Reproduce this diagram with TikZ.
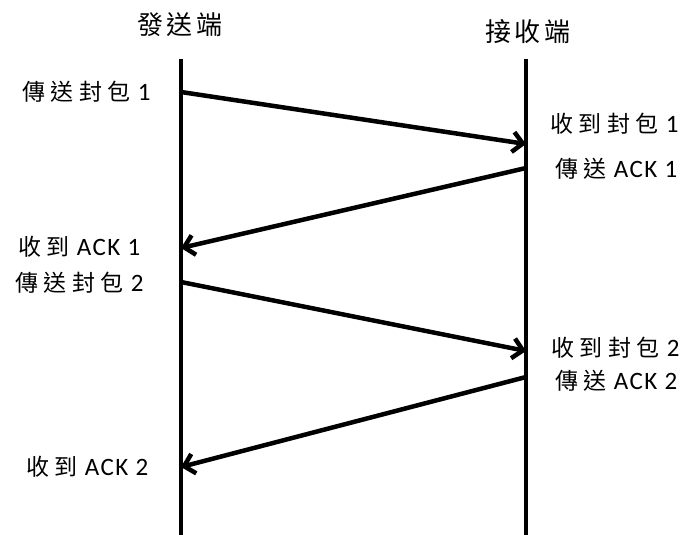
\documentclass[tikz,border=0pt]{standalone}
\usepackage{fontspec}
\setmainfont{Carlito}[LetterSpace=6]
\newfontfamily\cjk[LetterSpace=24]{Noto Sans CJK TC}
\newfontfamily\cjkhead[LetterSpace=12]{Noto Sans CJK TC}
\usetikzlibrary{arrows.meta}
\tikzset{
  lifeline/.style={line width=4.5pt},
  msg/.style={line width=4.5pt,-{Straight Barb[length=10pt,width=20pt]}},
  lbl/.style={font=\fontsize{25}{29}\selectfont, inner sep=0pt, anchor=west},
  head/.style={font=\cjkhead\fontsize{26}{30}\selectfont, inner sep=0pt}
}
\newcommand\cj[1]{{\cjk\fontsize{23}{27}\selectfont #1}}
\begin{document}
\begin{tikzpicture}[x=1pt,y=-1pt]
\useasboundingbox (0,0) rectangle (683,535);
% lifelines
\coordinate (Ltop) at (181,59);
\coordinate (Lbot) at (181,535);
\coordinate (Rtop) at (526,59);
\coordinate (Rbot) at (526,535);
\draw[lifeline] (Ltop) -- (Lbot);
\draw[lifeline] (Rtop) -- (Rbot);
% headers
\node[head] (hs) at (180,25) {發送端};
\node[head] (hr) at (528,32) {接收端};
% message points
\coordinate (s1) at (181,92);
\coordinate (r1) at (526,144);
\coordinate (r2) at (526,168);
\coordinate (s2) at (181,248);
\coordinate (s3) at (181,282);
\coordinate (r3) at (526,351);
\coordinate (r4) at (526,377);
\coordinate (s4) at (181,467);
\draw[msg] (s1) -- (r1);
\draw[msg] (r2) -- (s2);
\draw[msg] (s3) -- (r3);
\draw[msg] (r4) -- (s4);
% labels
\node[lbl] (l1) at (22,92) {\cj{傳送封包} 1};
\node[lbl] (l2) at (550,124) {\cj{收到封包} 1};
\node[lbl] (l3) at (555,169) {\cj{傳送} ACK 1};
\node[lbl] (l4) at (18,247) {\cj{收到} ACK 1};
\node[lbl] (l5) at (15,283) {\cj{傳送封包} 2};
\node[lbl] (l6) at (551,348) {\cj{收到封包} 2};
\node[lbl] (l7) at (555,381) {\cj{傳送} ACK 2};
\node[lbl] (l8) at (26,467) {\cj{收到} ACK 2};
\end{tikzpicture}
\end{document}
